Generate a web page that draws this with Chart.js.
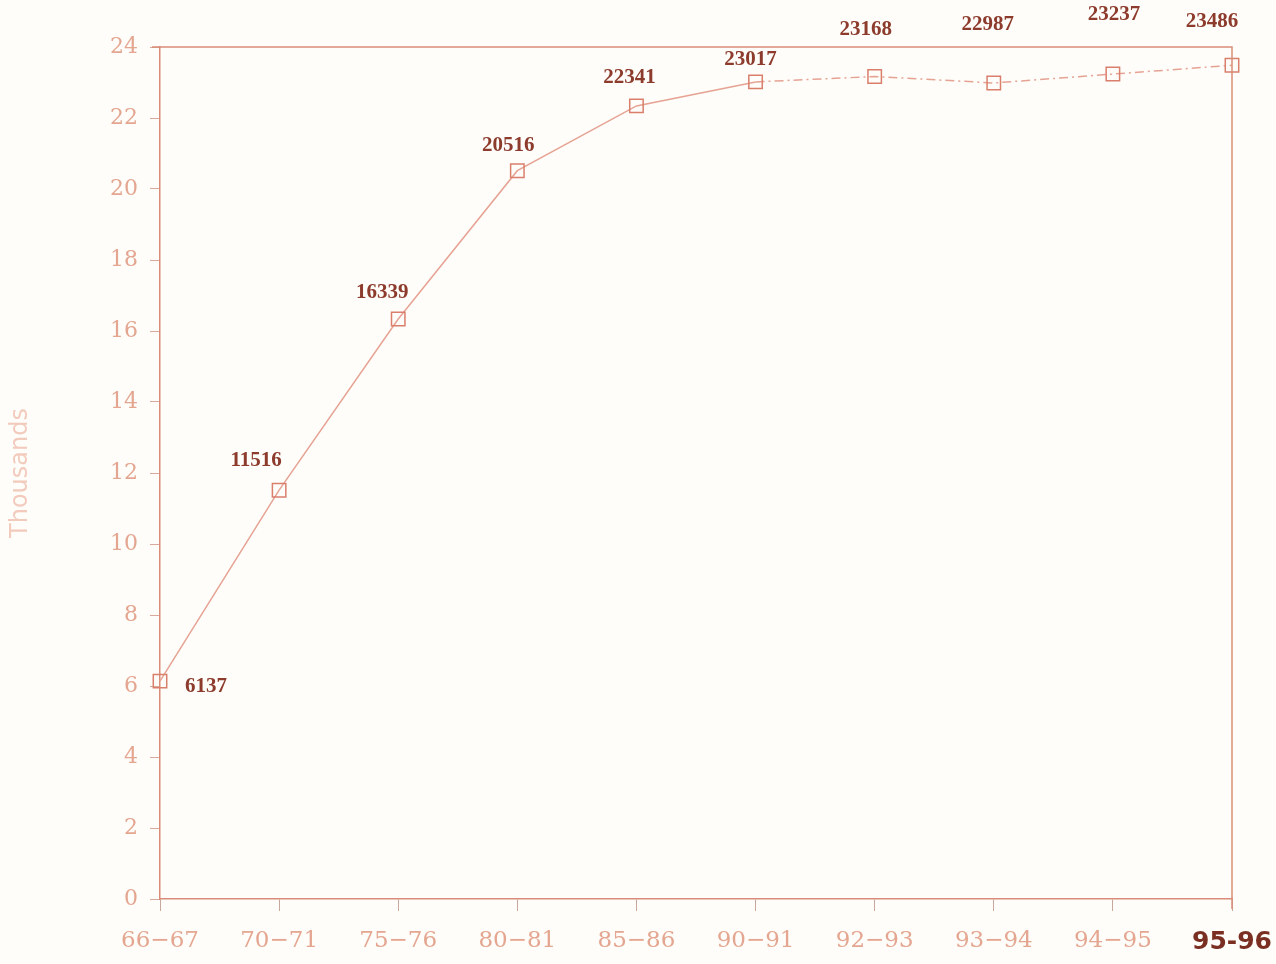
<!DOCTYPE html>
<html>
<head>
<meta charset="utf-8">
<script src="https://cdn.jsdelivr.net/npm/chart.js@4.4.0/dist/chart.umd.min.js"></script>
<style>
  html, body { margin: 0; padding: 0; background: #fefdf9; }
  #wrap { position: relative; width: 1276px; height: 964px; }
</style>
</head>
<body>
<div id="wrap"><canvas id="enrolChart"></canvas></div>
<script>
// values
var years = ['66\u221267', '70\u221271', '75\u221276', '80\u221281', '85\u221286', '90\u221291', '92\u221293', '93\u221294', '94\u221295', '95-96'];
var enrolment = [6137, 11516, 16339, 20516, 22341, 23017, 23168, 22987, 23237, 23486];
var yTicks = [0, 2, 4, 6, 8, 10, 12, 14, 16, 18, 20, 22, 24];

// where each value label sits relative to its marker (pixels)
var labelDx = [46, -23, -16, -9, -7, -5, -9, -6, 1, -20];
var labelDy = [5, -30, -26, -25, -28, -22, -47, -58, -60, -44];

var axisColor = '#d98c78';
var tickText = '#e4a690';

var valueLabels = {
    id: 'valueLabels',
    afterDatasetsDraw: function(chart) {
        var ctx = chart.ctx;
        var meta = chart.getDatasetMeta(0);
        ctx.save();
        ctx.font = 'bold 21px "Liberation Serif", "DejaVu Serif", serif';
        ctx.fillStyle = '#8c3b2c';
        ctx.textAlign = 'center';
        ctx.textBaseline = 'middle';
        meta.data.forEach(function(pt, i) {
            ctx.fillText(String(enrolment[i]), pt.x + labelDx[i], pt.y + labelDy[i]);
        });
        ctx.restore();
    }
};

var frame = {
    id: 'frame',
    afterDraw: function(chart) {
        var a = chart.chartArea;
        var ctx = chart.ctx;
        ctx.save();
        ctx.strokeStyle = axisColor;
        ctx.lineWidth = 1.5;
        ctx.beginPath();
        ctx.moveTo(a.left - 8, a.top);
        ctx.lineTo(a.right, a.top);
        ctx.lineTo(a.right, a.bottom + 10);
        ctx.stroke();
        ctx.restore();
    }
};

var canvas = document.getElementById('enrolChart');
new Chart(canvas, {
    type: 'line',
    data: {
        labels: years,
        datasets: [{
            data: enrolment.map(function(v) { return v / 1000; }),
            borderColor: '#e6a394',
            borderWidth: 1.5,
            pointStyle: 'rect',
            pointRadius: 9.5,
            pointBorderWidth: 1.5,
            pointBorderColor: '#d97f6c',
            pointBackgroundColor: 'rgba(0,0,0,0)',
            tension: 0,
            segment: {
                borderDash: function(c) { return c.p0DataIndex >= 5 ? [9, 4, 2, 4] : undefined; }
            }
        }]
    },
    options: {
        responsive: true,
        maintainAspectRatio: false,
        animation: false,
        layout: { padding: { left: 6, right: 44, top: 47, bottom: 0 } },
        plugins: {
            legend: { display: false },
            tooltip: { enabled: false }
        },
        scales: {
            x: {
                offset: false,
                grid: { display: true, drawOnChartArea: false, drawTicks: true, tickLength: 12, tickColor: '#c9a89c' },
                border: { display: true, color: axisColor, width: 1.5 },
                ticks: {
                    autoSkip: false,
                    maxRotation: 0,
                    padding: 16,
                    color: function(c) { return c.index === 9 ? '#7a2f22' : tickText; },
                    font: function(c) {
                        return c.index === 9
                            ? { family: '"DejaVu Sans", sans-serif', size: 25, weight: 'bold' }
                            : { family: '"DejaVu Serif", serif', size: 23 };
                    }
                },
                afterFit: function(scale) {
                    scale.height = 65;
                    scale.paddingLeft = 0;
                    scale.paddingRight = 0;
                }
            },
            y: {
                min: 0,
                max: 24,
                afterBuildTicks: function(scale) {
                    scale.ticks = yTicks.map(function(v) { return { value: v }; });
                },
                grid: { display: true, drawOnChartArea: false, drawTicks: true, tickLength: 10, tickColor: '#d9aa9c' },
                border: { display: true, color: axisColor, width: 1.5 },
                ticks: {
                    padding: 12,
                    color: tickText,
                    font: { family: '"DejaVu Serif", serif', size: 22 }
                },
                title: {
                    display: true,
                    text: 'Thousands',
                    color: '#f2cbbd',
                    font: { family: '"DejaVu Sans", sans-serif', size: 24 },
                    padding: { top: 0, bottom: 60 }
                },
                afterFit: function(scale) { scale.width = 154; }
            }
        }
    },
    plugins: [valueLabels, frame]
});
</script>
</body>
</html>
